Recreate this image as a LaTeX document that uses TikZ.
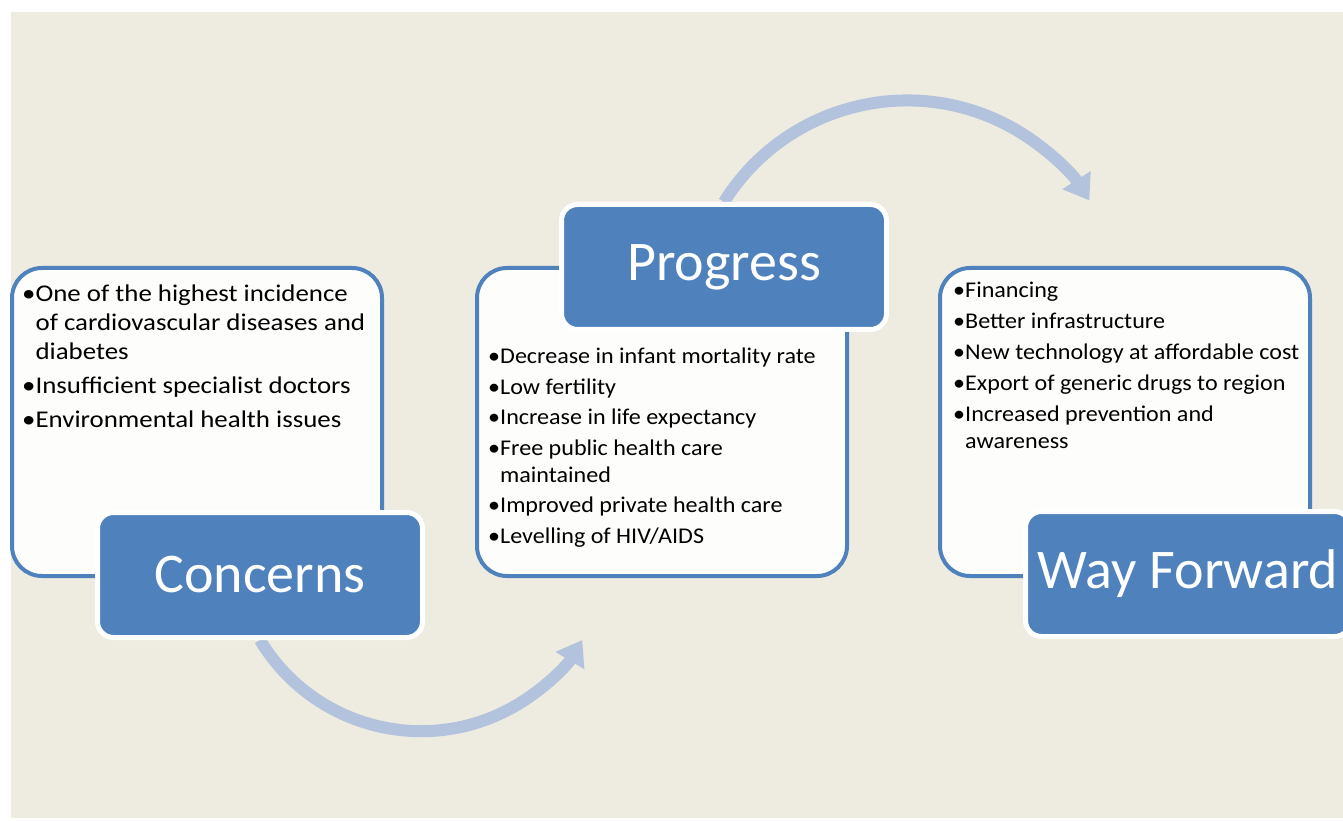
\documentclass[tikz,border=0pt]{standalone}
\usepackage{fontspec}
\setmainfont{Carlito}
\newfontfamily\widelist[FakeStretch=1.12]{Carlito}
\newfontfamily\midlist[FakeStretch=1.07]{Carlito}
\usetikzlibrary{arrows.meta}
\definecolor{panelblue}{RGB}{79,129,189}
\definecolor{arcblue}{RGB}{179,195,221}
\definecolor{slidebg}{RGB}{238,235,225}
\definecolor{boxwhite}{RGB}{253,253,251}
\pgfdeclarelayer{back}
\pgfsetlayers{back,main}

\begin{document}
\begin{tikzpicture}[x=1pt, y=1pt,
    listbox/.style={draw=panelblue, line width=4pt, fill=boxwhite, rounded corners=30pt,
        minimum width=370pt, minimum height=308pt, inner sep=0pt},
    titlebox/.style={draw=white, line width=5pt, fill=panelblue, rounded corners=16pt,
        minimum width=325pt, minimum height=125pt, inner sep=0pt, text=white,
        font=\fontsize{56}{60}\selectfont},
    bullets/.style={anchor=north west, align=left, inner sep=0pt},
    cycle/.style={draw=arcblue, line width=12pt, -{Triangle[width=32pt, length=24pt]}}]
\useasboundingbox (0,0) rectangle (1343,820);
\clip (0,0) rectangle (1343,820);

% Slide background
\begin{pgfonlayer}{back}
    \fill[slidebg] (11,2) rectangle (1343,808);
\end{pgfonlayer}

% Column 1: Concerns
\node[listbox] (conbox) at (197,398) {};
\node[bullets, font=\widelist\fontsize{24}{29}\selectfont] (context) at (22,535)
    {•One of the highest incidence\\
     \hphantom{•}of cardiovascular diseases and\\
     \hphantom{•}diabetes\\[5pt]
     •Insufficient specialist doctors\\[5pt]
     •Environmental health issues};
\node[titlebox] (conlab) at (260,245) {Concerns};

% Column 2: Progress
\node[listbox] (probox) at (662,398) {};
\node[bullets, font=\midlist\fontsize{22.5}{27}\selectfont] (protext) at (488,472)
    {•Decrease in infant mortality rate\\[3.5pt]
     •Low fertility\\[3.5pt]
     •Increase in life expectancy\\[3.5pt]
     •Free public health care\\
     \hphantom{•}maintained\\[3.5pt]
     •Improved private health care\\[3.5pt]
     •Levelling of HIV/AIDS};
\node[titlebox] (prolab) at (724,553) {Progress};

% Column 3: Way Forward
\node[listbox] (waybox) at (1125,398) {};
\node[bullets, font=\midlist\fontsize{22.5}{27}\selectfont] (waytext) at (953,538)
    {•Financing\\[4pt]
     •Better infrastructure\\[4pt]
     •New technology at affordable cost\\[4pt]
     •Export of generic drugs to region\\[4pt]
     •Increased prevention and\\
     \hphantom{•}awareness};
\node[titlebox] (waylab) at (1188,246) {Way Forward};

% Cycle arrows between the columns
\begin{pgfonlayer}{back}
    \draw[cycle] (conlab.south) arc[start angle=211, end angle=329, radius=188];
    \draw[cycle] (prolab.north) arc[start angle=148, end angle=32.5, radius=216];
\end{pgfonlayer}
\end{tikzpicture}
\end{document}
